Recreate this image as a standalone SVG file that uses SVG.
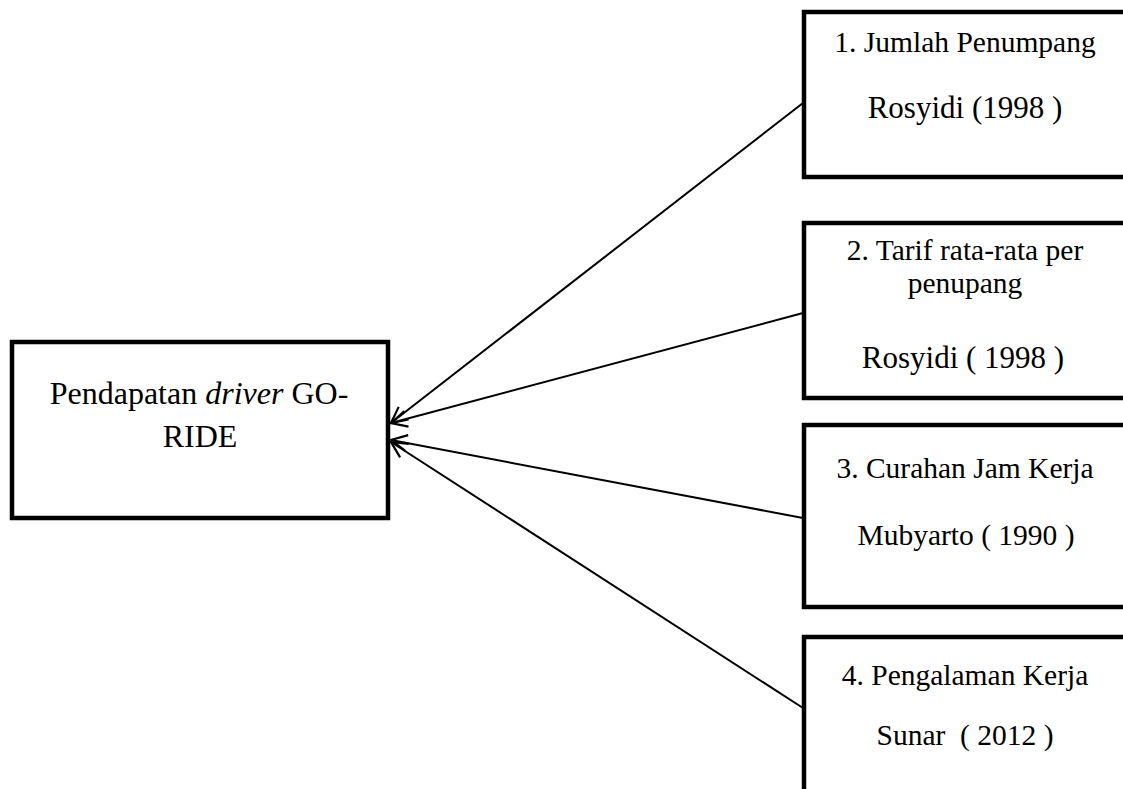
<svg xmlns="http://www.w3.org/2000/svg" width="1123" height="789" viewBox="0 0 1123 789">
<style>
.box{fill:#fff;stroke:#000;stroke-width:4.5}
.t{font-family:"Liberation Serif","Times New Roman",serif;font-size:29.5px;fill:#000;text-anchor:middle}
.m{font-size:32px}
.r{font-size:31px}
.c{stroke:#000;stroke-width:2;fill:none}
</style>
<defs>
<marker id="ah" markerUnits="userSpaceOnUse" markerWidth="24" markerHeight="24" refX="20" refY="10" orient="auto" viewBox="0 0 24 20">
<path d="M4 2 L20 10 L4 18" fill="none" stroke="#000" stroke-width="2.2"/>
</marker>
</defs>
<rect width="1123" height="789" fill="#fff"/>
<g id="main">
<rect class="box" x="12" y="342" width="376" height="176"/>
<text class="t m" x="199" y="404">Pendapatan <tspan font-style="italic">driver</tspan> GO-</text>
<text class="t m" x="200" y="447">RIDE</text>
</g>
<g id="n1">
<rect class="box" x="804" y="12" width="340" height="165"/>
<text class="t" x="965" y="52">1. Jumlah Penumpang</text>
<text class="t r" x="965" y="118">Rosyidi (1998 )</text>
</g>
<g id="n2">
<rect class="box" x="804" y="223" width="340" height="175"/>
<text class="t" x="965" y="260">2. Tarif rata-rata per</text>
<text class="t" x="965" y="293">penupang</text>
<text class="t r" x="963" y="368">Rosyidi ( 1998 )</text>
</g>
<g id="n3">
<rect class="box" x="804" y="425" width="340" height="182"/>
<text class="t" x="965" y="478">3. Curahan Jam Kerja</text>
<text class="t" x="966" y="545">Mubyarto ( 1990 )</text>
</g>
<g id="n4">
<rect class="box" x="804" y="637" width="340" height="200"/>
<text class="t" x="965" y="685">4. Pengalaman Kerja</text>
<text class="t" x="965" y="745" xml:space="preserve">Sunar  ( 2012 )</text>
</g>
<g id="connectors">
<line class="c" x1="803" y1="103" x2="391" y2="423" marker-end="url(#ah)"/>
<line class="c" x1="803" y1="313" x2="391" y2="423" marker-end="url(#ah)"/>
<line class="c" x1="803" y1="518" x2="391" y2="440" marker-end="url(#ah)"/>
<line class="c" x1="803" y1="708" x2="391" y2="442" marker-end="url(#ah)"/>
</g>
</svg>
